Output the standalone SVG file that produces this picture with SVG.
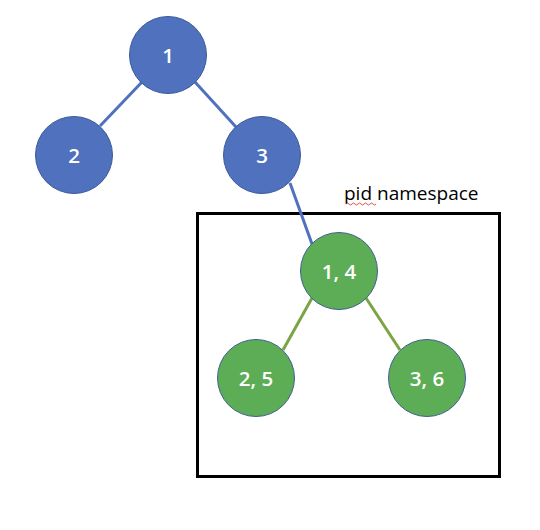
<svg xmlns="http://www.w3.org/2000/svg" width="540" height="530" viewBox="0 0 540 530">
<style>
.blue{fill:#4F71BE;stroke:#3A5A9A;stroke-width:1}
.green{fill:#5CAD55;stroke:#3F5F8F;stroke-width:1}
.lbl{font-family:"Open Sans","Liberation Sans",sans-serif;font-size:20.5px;font-weight:600;fill:#ffffff;text-anchor:middle;dominant-baseline:central}
.bl{stroke:#4F71BE;stroke-width:3;fill:none}
.gl{stroke:#7BA544;stroke-width:3;fill:none}
.cap{font-family:"Open Sans","Liberation Sans",sans-serif;font-size:19px;fill:#000000}
</style>
<rect width="540" height="530" fill="#ffffff"/>
<g id="namespace">
<rect x="197.5" y="213.5" width="302" height="263" fill="none" stroke="#000000" stroke-width="3"/>
<text class="cap" x="344" y="200">pid namespace</text>
<path d="M346,204 q1.5,-2 3,0 t3,0 t3,0 t3,0 t3,0 t3,0 t3,0 t3,0 t3,0 t3,0" fill="none" stroke="#E02020" stroke-width="0.8"/>
</g>
<g id="connectors">
<line class="bl" x1="142" y1="82" x2="100" y2="126"/>
<line class="bl" x1="195" y1="82" x2="236" y2="127"/>
<line class="bl" x1="290" y1="183" x2="312" y2="244"/>
<line class="gl" x1="312" y1="298" x2="283" y2="350"/>
<line class="gl" x1="366" y1="298" x2="400" y2="350"/>
</g>
<g id="n1"><circle class="blue" cx="168" cy="55" r="38.5"/><text class="lbl" x="168" y="55">1</text></g>
<g id="n2"><circle class="blue" cx="74" cy="155" r="38.5"/><text class="lbl" x="74" y="155">2</text></g>
<g id="n3"><circle class="blue" cx="262" cy="155" r="38.5"/><text class="lbl" x="262" y="155">3</text></g>
<g id="n14"><circle class="green" cx="339" cy="271" r="38.5"/><text class="lbl" x="339" y="271">1, 4</text></g>
<g id="n25"><circle class="green" cx="256" cy="378" r="38.5"/><text class="lbl" x="256" y="378">2, 5</text></g>
<g id="n36"><circle class="green" cx="427" cy="378" r="38.5"/><text class="lbl" x="427" y="378">3, 6</text></g>
</svg>
